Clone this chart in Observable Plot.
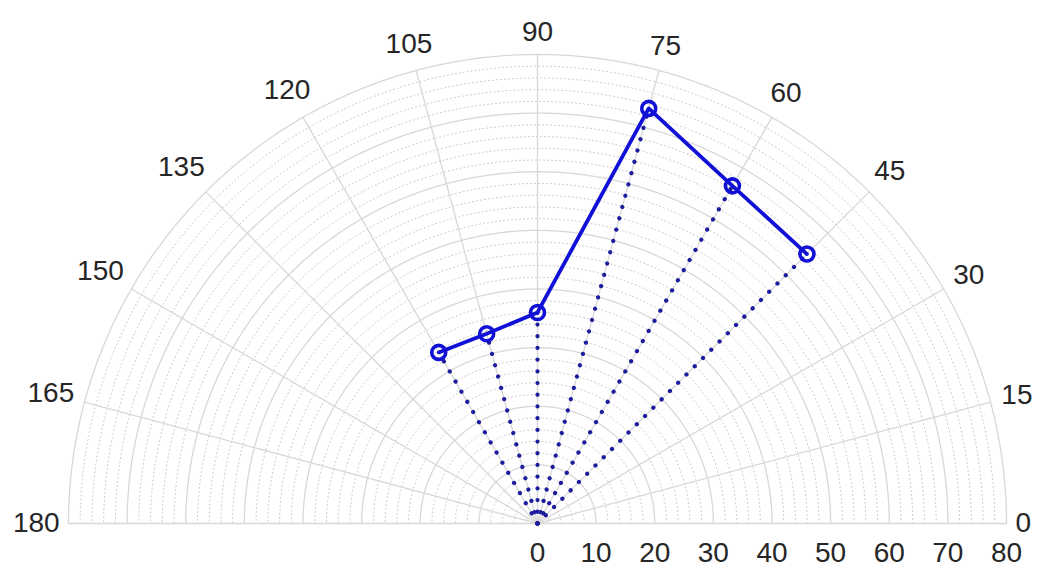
<!DOCTYPE html>
<html><head><meta charset="utf-8">
<script src="https://cdn.jsdelivr.net/npm/d3@7"></script>
<script src="https://cdn.jsdelivr.net/npm/@observablehq/plot@0.6"></script>
<style>body{margin:0;background:#fff;overflow:hidden}</style>
</head><body><div id="chart"></div>
<script>
// ---- data ----
const thetaDeg = [45, 60, 75, 90, 105, 120];
const radius = [65, 66.5, 73.3, 36, 33.5, 33.7];
const thetaTicks = [0, 15, 30, 45, 60, 75, 90, 105, 120, 135, 150, 165, 180];
const rTicks = [0, 10, 20, 30, 40, 50, 60, 70, 80];
const rMinorStep = 2;

// ---- geometry helpers ----
const W = 1038, H = 569;
const cx = 537, cy = 523, Rpx = 469, rMax = 80;
const k = Rpx / rMax; // px per unit
const xDomain = [-cx / k, (W - cx) / k];
const yDomain = [-(H - cy) / k, cy / k];
const rad = d => d * Math.PI / 180;
const pol = (r, t) => ({x: r * Math.cos(rad(t)), y: r * Math.sin(rad(t))});

// circles
const arc = (r) => d3.range(0, 180.5, 0.5).map(t => ({...pol(r, t), r}));
const majorCircles = rTicks.filter(r => r > 0).flatMap(arc);
const minorR = d3.range(rMinorStep, rMax, rMinorStep).filter(r => r % 10 !== 0);
const minorCircles = minorR.flatMap(arc);
// spokes
const spokes = thetaTicks.flatMap(t => [{...pol(0, t), t}, {...pol(rMax, t), t}]);

// data
const pts = thetaDeg.map((t, i) => ({...pol(radius[i], t), t, r: radius[i]}));
const stems = pts.flatMap((p, i) => [{x: 0, y: 0, i}, {x: p.x, y: p.y, i}]);

// labels
const fs = 28, digitW = 15.5, halfH = 13, gap = 9;
const thetaLabels = thetaTicks.map(t => {
  const w = String(t).length * digitW;
  const ext = Math.abs(Math.cos(rad(t))) * w / 2 + Math.abs(Math.sin(rad(t))) * halfH;
  const rl = (Rpx + gap + ext) / k;
  return {...pol(rl, t), label: String(t)};
});
const rLabels = rTicks.map(r => ({x: r, y: -30 / k, label: String(r)}));

const gridCol = "#d8d8d8";
const plot = Plot.plot({
  width: W, height: H,
  margin: 0,
  x: {domain: xDomain, axis: null},
  y: {domain: yDomain, axis: null},
  style: {fontFamily: "'Liberation Sans', Arial, sans-serif", background: "#fff"},
  marks: [
    Plot.line(minorCircles, {x: "x", y: "y", z: "r", stroke: "#c8c8c8", strokeWidth: 1, strokeDasharray: "1,3"}),
    Plot.line(majorCircles, {x: "x", y: "y", z: "r", stroke: gridCol, strokeWidth: 1.3}),
    Plot.line(spokes, {x: "x", y: "y", z: "t", stroke: gridCol, strokeWidth: 1.3}),
    Plot.line(stems, {x: "x", y: "y", z: "i", stroke: "#1c1c9c", strokeWidth: 4.2, strokeDasharray: "0.1,11.6", strokeLinecap: "round"}),
    Plot.line(pts, {x: "x", y: "y", stroke: "#1010d6", strokeWidth: 3.8}),
    Plot.dot(pts, {x: "x", y: "y", r: 7, stroke: "#1010d6", strokeWidth: 3.6, fill: "none"}),
    Plot.text(thetaLabels, {x: "x", y: "y", text: "label", fontSize: fs, fill: "#262626"}),
    Plot.text(rLabels, {x: "x", y: "y", text: "label", fontSize: fs, fill: "#262626"})
  ]
});
document.getElementById("chart").append(plot);
</script></body></html>
